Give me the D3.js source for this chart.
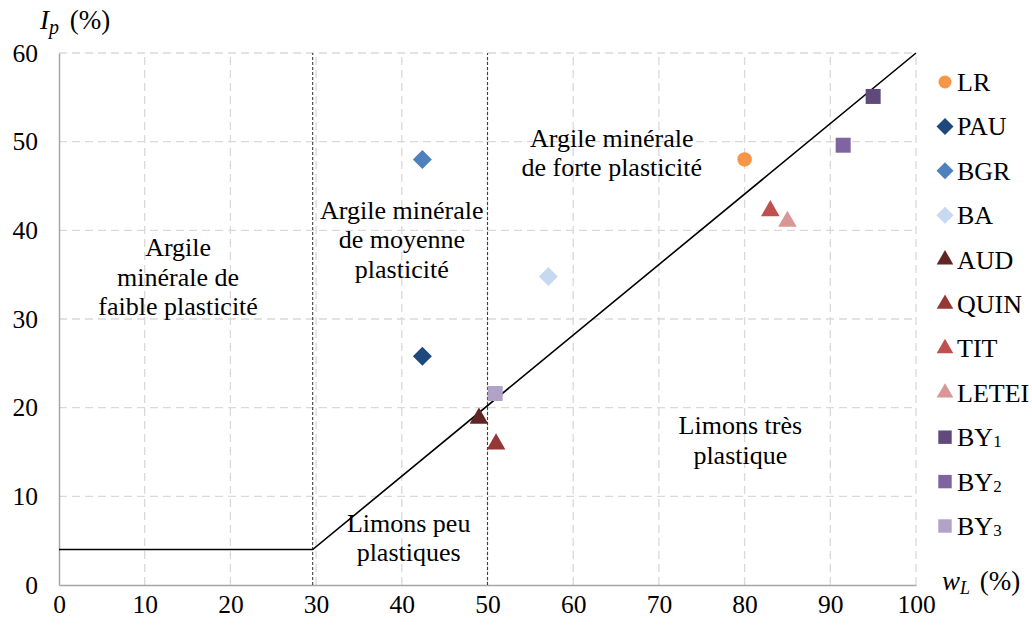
<!DOCTYPE html>
<html>
<head>
<meta charset="utf-8">
<script src="https://cdn.jsdelivr.net/npm/d3@7"></script>
<style>
  body { margin: 0; background: #fff; }
  svg { display: block; }
  svg text { font-family: "Times New Roman", "Liberation Serif", "DejaVu Serif", serif; }
</style>
</head>
<body>
<svg id="vis" width="1032" height="628"></svg>
<script>
const width = 1032;
const height = 628;
const margin = {top: 53, right: 116, bottom: 43, left: 59};
const serif = '"Liberation Serif", "Times New Roman", serif';

// data
const seriesNames = ['LR', 'PAU', 'BGR', 'BA', 'AUD', 'QUIN', 'TIT', 'LETEI', 'BY1', 'BY2', 'BY3'];
const seriesShapes = ['circle', 'diamond', 'diamond', 'diamond', 'triangle', 'triangle', 'triangle', 'triangle', 'square', 'square', 'square'];
const seriesColors = ['#F79646', '#1F497D', '#4F81BD', '#C6D9F1', '#632523', '#953735', '#C0504D', '#D99694', '#604A7B', '#8064A2', '#B3A2C7'];
const wL = [80, 42.4, 42.4, 57.1, 49, 51, 83, 85, 95, 91.5, 50.9];
const Ip = [48, 25.8, 48, 34.8, 18.8, 15.9, 42.2, 41, 55.1, 49.6, 21.6];
const xTicks = [0, 10, 20, 30, 40, 50, 60, 70, 80, 90, 100];
const yTicks = [0, 10, 20, 30, 40, 50, 60];
const aLineX = [0, 29.6, 100];
const aLineY = [4, 4, 60];
const zoneBounds = [29.6, 50];
const zoneLabels = [
  {lines: ['Argile', 'minérale de', 'faible plasticité'], x: 13.9, y: 37.1},
  {lines: ['Argile minérale', 'de moyenne', 'plasticité'], x: 40, y: 41.3},
  {lines: ['Argile minérale', 'de forte plasticité'], x: 64.5, y: 49.4},
  {lines: ['Limons très', 'plastique'], x: 79.5, y: 17.0},
  {lines: ['Limons peu', 'plastiques'], x: 40.8, y: 6.0}
];

const svg = d3.select('#vis');
const x = d3.scaleLinear().domain([0, 100]).range([margin.left, width - margin.right]);
const y = d3.scaleLinear().domain([0, 60]).range([height - margin.bottom, margin.top]);

// grid
const grid = svg.append('g').attr('stroke', '#D9D9D9').attr('stroke-width', 1.3).attr('stroke-dasharray', '8,5');
grid.selectAll('line.gx').data(xTicks.slice(1)).join('line')
  .attr('x1', d => x(d)).attr('x2', d => x(d)).attr('y1', y(0)).attr('y2', y(60));
grid.selectAll('line.gy').data(yTicks.slice(1)).join('line')
  .attr('x1', x(0)).attr('x2', x(100)).attr('y1', d => y(d)).attr('y2', d => y(d));

// axes
const xAxis = svg.append('g').attr('transform', `translate(0,${y(0)})`)
  .call(d3.axisBottom(x).tickValues(xTicks).tickSize(0).tickPadding(10));
const yAxis = svg.append('g').attr('transform', `translate(${x(0)},0)`)
  .call(d3.axisLeft(y).tickValues(yTicks).tickSize(0).tickPadding(21));
[xAxis, yAxis].forEach(a => {
  a.attr('font-family', serif).attr('font-size', 25.5);
  a.select('.domain').attr('stroke', '#A6A6A6').attr('stroke-width', 1.5);
  a.selectAll('text').attr('fill', '#000');
});

// zone separators
svg.append('g').selectAll('line').data(zoneBounds).join('line')
  .attr('x1', d => x(d)).attr('x2', d => x(d)).attr('y1', y(0)).attr('y2', y(60))
  .attr('stroke', '#404040').attr('stroke-width', 1.1).attr('stroke-dasharray', '3,2');

// A-line
const line = d3.line().x(d => x(d[0])).y(d => y(d[1]));
svg.append('path')
  .datum(aLineX.map((v, i) => [v, aLineY[i]]))
  .attr('d', line)
  .attr('fill', 'none').attr('stroke', '#000').attr('stroke-width', 1.6);

// zone labels
const lbl = svg.append('g').attr('font-family', serif).attr('font-size', 26).attr('text-anchor', 'middle');
zoneLabels.forEach(z => {
  const t = lbl.append('text').attr('x', x(z.x)).attr('y', y(z.y));
  z.lines.forEach((s, i) => t.append('tspan').attr('x', x(z.x)).attr('dy', i === 0 ? 0 : 29.5).text(s));
});

// symbols
const shapeType = {circle: d3.symbolCircle, triangle: d3.symbolTriangle, square: d3.symbolSquare};
const shapeSize = {circle: 165, triangle: 150, square: 225};
const symbolPath = (s, k) => {
  if (s === 'diamond') {
    const r = 9.5 * Math.sqrt(k);
    return `M0,${-r}L${r},0L0,${r}L${-r},0Z`;
  }
  return d3.symbol().type(shapeType[s]).size(shapeSize[s] * k)();
};

const points = seriesNames.map((n, i) => ({name: n, shape: seriesShapes[i], color: seriesColors[i], x: wL[i], y: Ip[i]}));
svg.append('g').selectAll('path').data(points).join('path')
  .attr('transform', d => `translate(${x(d.x)},${y(d.y)})`)
  .attr('d', d => symbolPath(d.shape, 1))
  .attr('fill', d => d.color);

// legend
const legend = svg.append('g').attr('transform', 'translate(945,82)');
const rows = legend.selectAll('g').data(points).join('g')
  .attr('transform', (d, i) => `translate(0,${i * 44.4})`);
rows.append('path').attr('d', d => symbolPath(d.shape, 0.8)).attr('fill', d => d.color);
rows.each(function(d) {
  const t = d3.select(this).append('text').attr('x', 12).attr('y', 9)
    .attr('font-family', serif).attr('font-size', 26);
  const m = d.name.match(/^(BY)(\d)$/);
  if (m) {
    t.append('tspan').text(m[1]);
    t.append('tspan').attr('font-size', 17).attr('dy', 1).text(m[2]);
  } else {
    t.text(d.name);
  }
});

// axis titles
const ipT = svg.append('text').attr('x', 40).attr('y', 29).attr('font-family', serif).attr('font-size', 27);
ipT.append('tspan').attr('font-style', 'italic').text('I');
ipT.append('tspan').attr('font-style', 'italic').attr('font-size', 20).attr('dy', 5).text('p');
ipT.append('tspan').attr('dy', -5).attr('dx', 4).text(' (%)');

const wlT = svg.append('text').attr('x', 942).attr('y', 590).attr('font-family', serif).attr('font-size', 27);
wlT.append('tspan').attr('font-style', 'italic').text('w');
wlT.append('tspan').attr('font-style', 'italic').attr('font-size', 18).attr('dy', 4).text('L');
wlT.append('tspan').attr('dy', -4).attr('dx', 3).text(' (%)');
</script>
</body>
</html>
